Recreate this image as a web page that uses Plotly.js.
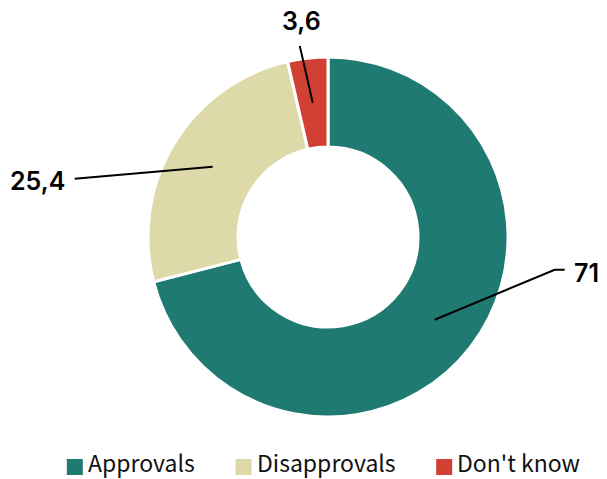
<!DOCTYPE html>
<html>
<head>
<meta charset="utf-8">
<script src="https://cdn.plot.ly/plotly-3.0.1.min.js"></script>
<style>html,body{margin:0;padding:0;background:#fff;}#chart{width:607px;height:479px;}</style>
</head>
<body>
<div id="chart"></div>
<script>
const categories = ["Approvals", "Disapprovals", "Don't know"];
const values = [71, 25.4, 3.6];
const valueLabels = ["71", "25,4", "3,6"];
const colors = ["#1f7a72", "#ded9a8", "#d04134"];

const W = 607, H = 479;
// pie geometry (pixels)
const cx = 328, cy = 237, R = 180;
const dom = {x: [(cx - R) / W, (cx + R) / W], y: [1 - (cy + R) / H, 1 - (cy - R) / H]};

// label leader styles: elbow/end offsets and text offsets (pixels, relative to anchor)
const leaderStyle = [
  {pts: [[120, -50], [130, -50]], text: [137, -47], anchor: 'left'},
  {pts: [[-138, 12]], text: [-146, 14], anchor: 'right'},
  {pts: [[-13, -57]], text: [-11, -82], anchor: 'center'}
];
const labelFont = {family: 'Inter, Liberation Sans, Arial, sans-serif', size: 25, color: '#000', weight: 600};
const legendFontFamily = 'Noto Sans CJK KR, Noto Sans, sans-serif';
const legendFontSize = 23;

const total = values.reduce((a, b) => a + b, 0);
const shapes = [], annotations = [];
let cum = 0;
const px = x => x / W, py = y => 1 - y / H;
values.forEach((v, i) => {
  const mid = (cum + v / 2) / total * 2 * Math.PI;
  cum += v;
  const r = 0.75 * R;
  const ax = cx + r * Math.sin(mid), ay = cy - r * Math.cos(mid);
  const st = leaderStyle[i];
  let path = 'M' + px(ax) + ',' + py(ay);
  st.pts.forEach(p => { path += ' L' + px(ax + p[0]) + ',' + py(ay + p[1]); });
  shapes.push({type: 'path', xref: 'paper', yref: 'paper', path: path, line: {color: '#000', width: 2}});
  annotations.push({
    xref: 'paper', yref: 'paper', x: px(ax + st.text[0]), y: py(ay + st.text[1]),
    text: valueLabels[i], showarrow: false, xanchor: st.anchor, yanchor: 'middle',
    font: labelFont
  });
});

// custom legend
const ctx = document.createElement('canvas').getContext('2d');
ctx.font = legendFontSize + 'px "Noto Sans CJK KR"';
const sw = 16, swGap = 6, itemGap = 40, legendCenter = 324, legendTextY = 462, swatchY = 467;
const widths = categories.map(c => ctx.measureText(c).width);
const totalW = widths.reduce((a, w) => a + sw + swGap + w, 0) + itemGap * (categories.length - 1);
let lx = legendCenter - totalW / 2;
categories.forEach((c, i) => {
  shapes.push({type: 'rect', xref: 'paper', yref: 'paper',
    x0: px(lx), x1: px(lx + sw), y0: py(swatchY - 8), y1: py(swatchY + 8),
    fillcolor: colors[i], line: {width: 0}});
  annotations.push({xref: 'paper', yref: 'paper', x: px(lx + sw + swGap - 3), y: py(legendTextY),
    text: c, showarrow: false, xanchor: 'left', yanchor: 'middle',
    font: {family: legendFontFamily, size: legendFontSize, color: '#111'}});
  lx += sw + swGap + widths[i] + itemGap;
});

const data = [{
  type: 'pie',
  labels: categories,
  values: values,
  hole: 0.5,
  sort: false,
  direction: 'clockwise',
  rotation: 0,
  textinfo: 'none',
  marker: {colors: colors, line: {color: '#ffffff', width: 3}},
  domain: dom,
  hoverinfo: 'label+value'
}];

const layout = {
  width: W, height: H,
  margin: {l: 0, r: 0, t: 0, b: 0},
  paper_bgcolor: '#fff',
  showlegend: false,
  shapes: shapes,
  annotations: annotations
};

Plotly.newPlot('chart', data, layout, {displayModeBar: false, staticPlot: true});
</script>
</body>
</html>
